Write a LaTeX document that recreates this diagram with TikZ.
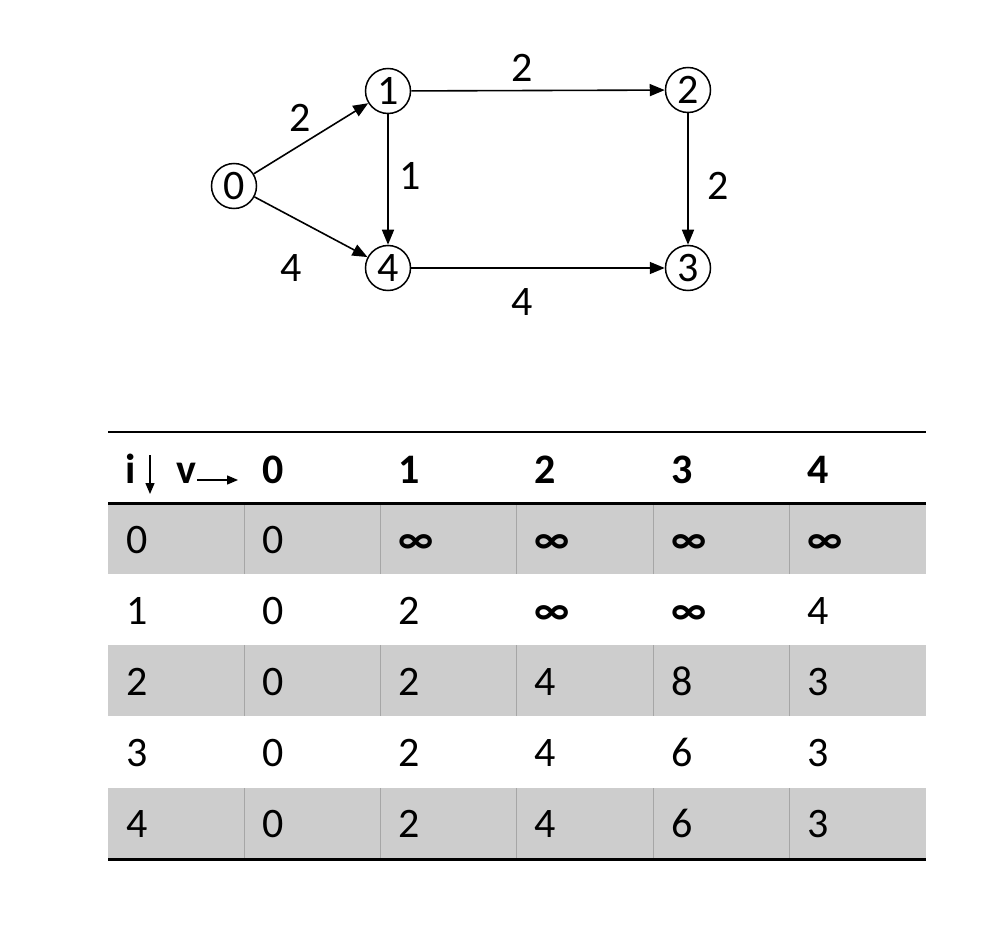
\documentclass[tikz,border=0pt]{standalone}
\usepackage{fontspec}
\setmainfont{Carlito}
\usetikzlibrary{arrows.meta}
\definecolor{rowgray}{HTML}{CDCDCD}
\definecolor{linegray}{HTML}{A6A6A6}
\tikzset{
  vert/.style={circle,draw,line width=1.5pt,minimum size=45pt,inner sep=0pt,font=\fontsize{42}{48}\selectfont},
  edge/.style={line width=1.6pt,-{Triangle[length=15pt,width=12pt]}},
  wlabel/.style={font=\fontsize{42}{48}\selectfont},
  cell/.style={anchor=base west,inner sep=0pt,font=\fontsize{42}{48}\selectfont},
  hcell/.style={anchor=base west,inner sep=0pt,font=\fontsize{42}{48}\selectfont\bfseries},
}
\begin{document}
\begin{tikzpicture}[x=1pt,y=-1pt]
\useasboundingbox (0,0) rectangle (1002,928);
% graph
\node[vert] (v0) at (234,186) {0};
\node[vert] (v1) at (388,91) {1};
\node[vert] (v2) at (688,90) {2};
\node[vert] (v4) at (388,268) {4};
\node[vert] (v3) at (688,268) {3};
\draw[edge] (v0) -- (v1);
\draw[edge] (v0) -- (v4);
\draw[edge] (v1) -- (v2);
\draw[edge] (v1) -- (v4);
\draw[edge] (v2) -- (v3);
\draw[edge] (v4) -- (v3);
\node[wlabel] (l01) at (300,118) {2};
\node[wlabel] (l12) at (522,68) {2};
\node[wlabel] (l14) at (410,176) {1};
\node[wlabel] (l23) at (718,186) {2};
\node[wlabel] (l04) at (291,268) {4};
\node[wlabel] (l43) at (522,302) {4};
% table backgrounds
\foreach \t in {503,645,788}{
  \fill[rowgray] (108,\t) rectangle (926,\t+71);
  \foreach \x in {244,380,516,653,789}{
    \draw[linegray,line width=1pt] (\x,\t) -- (\x,\t+71);
  }
}
\draw[line width=2pt] (108,432) -- (926,432);
\draw[line width=3pt] (108,503.5) -- (926,503.5);
\draw[line width=3pt] (108,859) -- (926,859);
% header
\node[hcell] (hi) at (125,483) {i};
\coordinate (da1) at (150,455);
\coordinate (da2) at (150,494);
\draw[line width=1.4pt,-{Triangle[length=11pt,width=9pt]}] (da1) -- (da2);
\node[hcell] (hv) at (176,483) {v};
\coordinate (ra1) at (197,480);
\coordinate (ra2) at (238,480);
\draw[line width=1.4pt,-{Triangle[length=11pt,width=9pt]}] (ra1) -- (ra2);
\node[hcell] (h0) at (262,483) {0};
\node[hcell] (h1) at (398,483) {1};
\node[hcell] (h2) at (534,483) {2};
\node[hcell] (h3) at (671,483) {3};
\node[hcell] (h4) at (807,483) {4};
% rows
\foreach \r/\y/\a/\b/\c/\d/\e/\f in {
  0/553/0/0/\textbf{∞}/\textbf{∞}/\textbf{∞}/\textbf{∞},
  1/624/1/0/2/\textbf{∞}/\textbf{∞}/4,
  2/695/2/0/2/4/8/3,
  3/766/3/0/2/4/6/3,
  4/837/4/0/2/4/6/3}{
  \node[cell] (c\r a) at (126,\y) {\a};
  \node[cell] (c\r b) at (262,\y) {\b};
  \node[cell] (c\r c) at (398,\y) {\c};
  \node[cell] (c\r d) at (534,\y) {\d};
  \node[cell] (c\r e) at (671,\y) {\e};
  \node[cell] (c\r f) at (807,\y) {\f};
}
\end{tikzpicture}
\end{document}
